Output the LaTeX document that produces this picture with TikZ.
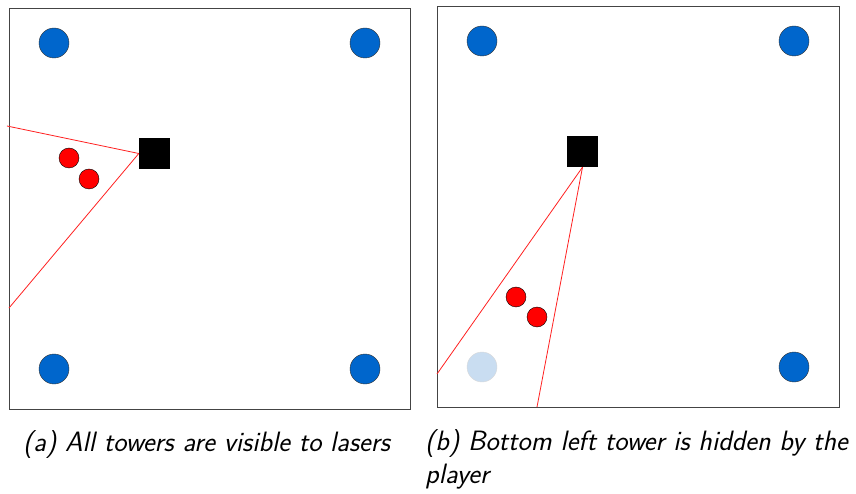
\documentclass[tikz,border=0pt]{standalone}
\usepackage{tikz}
\usetikzlibrary{positioning}
\definecolor{towerblue}{HTML}{0066CC}
\definecolor{paleblue}{HTML}{C9DDF1}
\definecolor{laserred}{HTML}{FF2020}
\definecolor{framegray}{HTML}{444444}
\begin{document}
\begin{tikzpicture}[x=1pt,y=-1pt,
 tower/.style={circle,draw=black!80,fill=towerblue,minimum size=30pt,inner sep=0pt},
 hidden/.style={circle,draw=black!15,fill=paleblue,minimum size=30pt,inner sep=0pt},
 robot/.style={circle,draw=black,fill=red,minimum size=20pt,inner sep=0pt},
 player/.style={fill=black,minimum size=31pt,inner sep=0pt},
 laser/.style={draw=laserred,line width=0.8pt},
 caption/.style={font=\fontsize{28}{33}\selectfont\sffamily\itshape,anchor=base west,inner sep=0pt,align=left}]
\useasboundingbox (0,0) rectangle (856,494);
% (a) all towers visible
\draw[framegray,line width=0.8pt] (9,8) rectangle (410,409);
\node[tower] (a-tl) at (54,43) {};
\node[tower] (a-tr) at (365,43) {};
\node[tower] (a-bl) at (54,369) {};
\node[tower] (a-br) at (365,369) {};
\node[player] (a-pl) at (154.5,153.5) {};
\node[robot] (a-r1) at (69,158) {};
\node[robot] (a-r2) at (89,179) {};
\coordinate (a-e1) at (7,126);
\coordinate (a-e2) at (9,308);
\draw[laser] (a-pl.west) -- (a-e1);
\draw[laser] (a-pl.west) -- (a-e2);
% (b) bottom left tower hidden
\draw[framegray,line width=0.8pt] (437,6) rectangle (839,407);
\node[tower] (b-tl) at (482,41) {};
\node[tower] (b-tr) at (794,41) {};
\node[hidden] (b-bl) at (482,367) {};
\node[tower] (b-br) at (794,367) {};
\node[player] (b-pl) at (582.5,151.5) {};
\node[robot] (b-r1) at (516,297) {};
\node[robot] (b-r2) at (537,317) {};
\coordinate (b-e1) at (437,374);
\coordinate (b-e2) at (537,407);
\draw[laser] (b-pl.south) -- (b-e1);
\draw[laser] (b-pl.south) -- (b-e2);
% captions
\node[caption] (a-cap) at (23,451) {(a) All towers are visible to lasers};
\node[caption] (b-cap) at (425,483) {(b) Bottom left tower is hidden by the\\player};
\end{tikzpicture}
\end{document}
